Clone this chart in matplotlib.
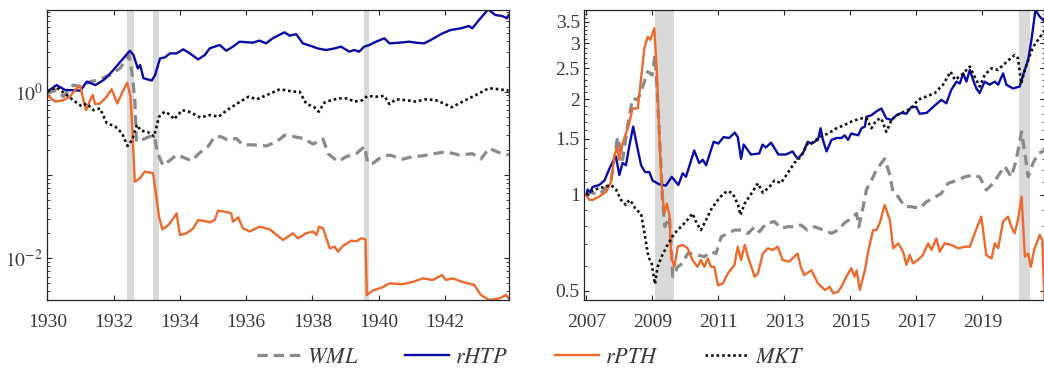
import numpy as np
import matplotlib
matplotlib.use("Agg")
import matplotlib.pyplot as plt
from matplotlib.ticker import LogLocator, MultipleLocator, NullFormatter

############################################
# data: cumulative value (log scale)
############################################
# --- 1930-1943 panel ---
wml_1930 = [(1930.0, 0.95), (1930.28, 1.05), (1930.48, 0.87), (1930.78, 1.2), (1931.03, 1.15),
            (1931.29, 1.32), (1931.54, 1.38), (1931.89, 1.58), (1932.19, 1.9), (1932.47, 2.75),
            (1932.57, 1.5), (1932.64, 0.79), (1932.69, 0.25), (1932.84, 0.263), (1933.09, 0.29),
            (1933.24, 0.29), (1933.31, 0.19), (1933.49, 0.13), (1933.7, 0.15), (1933.9, 0.174),
            (1934.1, 0.163), (1934.35, 0.148), (1934.6, 0.185), (1934.85, 0.22), (1935.05, 0.288),
            (1935.25, 0.288), (1935.45, 0.26), (1935.7, 0.275), (1935.9, 0.23), (1936.21, 0.23),
            (1936.61, 0.223), (1936.91, 0.25), (1937.16, 0.3), (1937.41, 0.29), (1937.71, 0.275),
            (1938.02, 0.235), (1938.32, 0.27), (1938.47, 0.18), (1938.77, 0.145), (1939.02, 0.166),
            (1939.32, 0.18), (1939.57, 0.22), (1939.67, 0.138), (1939.82, 0.138), (1940.02, 0.158),
            (1940.32, 0.174), (1940.72, 0.155), (1941.02, 0.166), (1941.33, 0.17), (1941.73, 0.182),
            (1942.03, 0.19), (1942.43, 0.174), (1942.83, 0.18), (1943.08, 0.155), (1943.33, 0.209),
            (1943.64, 0.185), (1943.92, 0.174)]

htp_1930 = [(1930.0, 1.0), (1930.28, 1.2), (1930.53, 1.05), (1931.0, 1.03), (1931.19, 1.32),
            (1931.45, 1.2), (1931.7, 1.38), (1931.95, 1.74), (1932.25, 2.4), (1932.49, 3.1),
            (1932.6, 2.75), (1932.73, 1.9), (1932.8, 2.09), (1932.9, 1.45), (1933.15, 1.36),
            (1933.25, 1.58), (1933.4, 2.5), (1933.55, 2.58), (1933.7, 2.88), (1933.9, 2.88),
            (1934.1, 3.22), (1934.3, 2.88), (1934.55, 2.44), (1934.75, 2.75), (1934.9, 3.31),
            (1935.2, 3.63), (1935.4, 3.1), (1935.6, 3.47), (1935.8, 3.98), (1936.2, 3.87),
            (1936.4, 4.1), (1936.6, 3.8), (1936.8, 4.37), (1937.0, 4.8), (1937.16, 5.15),
            (1937.31, 4.7), (1937.51, 4.9), (1937.71, 3.8), (1937.96, 3.53), (1938.16, 3.3),
            (1938.41, 3.16), (1938.66, 3.3), (1938.86, 3.47), (1939.11, 3.02), (1939.26, 3.16),
            (1939.41, 3.02), (1939.56, 3.47), (1939.72, 3.63), (1939.92, 3.98), (1940.17, 4.37),
            (1940.32, 3.8), (1940.62, 3.87), (1940.92, 3.98), (1941.12, 3.87), (1941.37, 3.8),
            (1941.57, 4.17), (1941.92, 5.0), (1942.17, 5.5), (1942.47, 5.75), (1942.72, 6.14),
            (1942.82, 5.75), (1943.07, 7.6), (1943.3, 9.7), (1943.52, 8.3), (1943.72, 8.1),
            (1943.87, 7.6), (1943.92, 8.3)]

pth_1930 = [(1930.0, 0.91), (1930.23, 0.76), (1930.48, 0.79), (1930.68, 0.87), (1930.88, 1.1),
            (1930.99, 1.17), (1931.09, 0.79), (1931.17, 0.6), (1931.29, 0.79), (1931.37, 0.91),
            (1931.44, 0.71), (1931.59, 0.72), (1931.79, 0.87), (1931.94, 1.07), (1932.11, 0.72),
            (1932.27, 1.0), (1932.41, 1.28), (1932.51, 0.87), (1932.57, 0.32), (1932.64, 0.083),
            (1932.79, 0.091), (1932.94, 0.11), (1933.19, 0.105), (1933.29, 0.055), (1933.37, 0.0316),
            (1933.47, 0.0223), (1933.65, 0.025), (1933.8, 0.03), (1933.9, 0.0347), (1934.0, 0.019),
            (1934.2, 0.02), (1934.4, 0.0229), (1934.55, 0.0288), (1934.75, 0.028), (1934.9, 0.027),
            (1935.05, 0.0288), (1935.15, 0.0373), (1935.4, 0.036), (1935.55, 0.0347), (1935.6, 0.0275),
            (1935.76, 0.031), (1935.9, 0.0229), (1936.1, 0.021), (1936.41, 0.024), (1936.71, 0.0223),
            (1937.11, 0.0166), (1937.41, 0.02), (1937.56, 0.0174), (1937.81, 0.02), (1938.02, 0.021),
            (1938.12, 0.019), (1938.2, 0.024), (1938.32, 0.0229), (1938.52, 0.0132), (1938.67, 0.0138),
            (1938.77, 0.012), (1938.92, 0.0141), (1939.17, 0.0163), (1939.32, 0.016), (1939.47, 0.0174),
            (1939.6, 0.017), (1939.64, 0.00363), (1939.82, 0.0041), (1940.12, 0.0045), (1940.32, 0.005),
            (1940.72, 0.0049), (1941.02, 0.0052), (1941.33, 0.00575), (1941.63, 0.0055), (1941.91, 0.0063),
            (1942.03, 0.0055), (1942.23, 0.00575), (1942.53, 0.0052), (1942.88, 0.0048), (1943.08, 0.00363),
            (1943.33, 0.00316), (1943.64, 0.0033), (1943.84, 0.00363), (1943.92, 0.0033)]

mkt_1930 = [(1930.0, 1.0), (1930.28, 1.13), (1930.53, 0.95), (1930.78, 0.79), (1931.03, 0.67),
            (1931.19, 0.72), (1931.39, 0.6), (1931.59, 0.63), (1931.79, 0.42), (1932.05, 0.38),
            (1932.25, 0.32), (1932.42, 0.223), (1932.56, 0.263), (1932.7, 0.4), (1932.82, 0.34),
            (1933.02, 0.33), (1933.22, 0.29), (1933.37, 0.5), (1933.54, 0.575), (1933.72, 0.525),
            (1933.82, 0.466), (1934.07, 0.6), (1934.27, 0.575), (1934.62, 0.49), (1934.92, 0.525),
            (1935.17, 0.5), (1935.42, 0.6), (1935.82, 0.76), (1936.07, 0.87), (1936.32, 0.81),
            (1936.62, 0.91), (1937.02, 1.07), (1937.41, 1.0), (1937.61, 1.0), (1937.81, 0.72),
            (1938.06, 0.65), (1938.19, 0.575), (1938.36, 0.74), (1938.56, 0.79), (1938.81, 0.83),
            (1939.06, 0.83), (1939.26, 0.76), (1939.51, 0.79), (1939.66, 0.89), (1939.92, 0.87),
            (1940.17, 0.89), (1940.32, 0.71), (1940.52, 0.81), (1940.82, 0.79), (1941.12, 0.76),
            (1941.42, 0.81), (1941.72, 0.79), (1941.97, 0.72), (1942.2, 0.65), (1942.42, 0.72),
            (1942.72, 0.83), (1943.02, 0.95), (1943.32, 1.1), (1943.62, 1.07), (1943.92, 1.03)]

bands_1930 = [(1932.39, 1932.62), (1933.2, 1933.36), (1939.56, 1939.72)]

# --- 2007-2020 panel ---
wml_2007 = [(2007.0, 1.0), (2007.14, 1.02), (2007.35, 1.0), (2007.55, 1.04), (2007.75, 1.11),
            (2007.9, 1.42), (2007.95, 1.52), (2008.1, 1.29), (2008.25, 1.64), (2008.4, 2.01),
            (2008.56, 1.99), (2008.71, 2.19), (2008.86, 2.44), (2009.0, 2.38), (2009.08, 2.75),
            (2009.16, 1.99), (2009.24, 1.38), (2009.31, 0.965), (2009.38, 0.795), (2009.52, 0.855),
            (2009.62, 0.554), (2009.77, 0.595), (2009.92, 0.61), (2010.07, 0.655), (2010.22, 0.655),
            (2010.37, 0.648), (2010.58, 0.64), (2010.78, 0.664), (2010.93, 0.655), (2011.09, 0.74),
            (2011.29, 0.757), (2011.49, 0.776), (2011.7, 0.776), (2011.9, 0.757), (2012.1, 0.795),
            (2012.25, 0.767), (2012.45, 0.815), (2012.7, 0.825), (2012.9, 0.786), (2013.1, 0.795),
            (2013.3, 0.795), (2013.5, 0.805), (2013.7, 0.776), (2013.92, 0.795), (2014.18, 0.776),
            (2014.43, 0.758), (2014.63, 0.776), (2014.83, 0.818), (2015.03, 0.845), (2015.19, 0.875),
            (2015.26, 0.795), (2015.39, 0.919), (2015.49, 1.04), (2015.64, 1.11), (2015.79, 1.2),
            (2016.04, 1.3), (2016.2, 1.155), (2016.3, 1.012), (2016.45, 0.988), (2016.65, 0.919),
            (2016.85, 0.919), (2017.1, 0.908), (2017.31, 0.953), (2017.51, 0.976), (2017.76, 1.012),
            (2017.96, 1.088), (2018.22, 1.11), (2018.47, 1.14), (2018.72, 1.155), (2018.92, 1.14),
            (2019.12, 1.037), (2019.33, 1.088), (2019.53, 1.17), (2019.68, 1.23), (2019.88, 1.14),
            (2020.03, 1.29), (2020.19, 1.58), (2020.29, 1.35), (2020.39, 1.14), (2020.54, 1.26),
            (2020.69, 1.35), (2020.9, 1.38)]

htp_2007 = [(2007.0, 1.0), (2007.04, 1.04), (2007.12, 1.02), (2007.19, 1.06), (2007.39, 1.075),
            (2007.55, 1.11), (2007.7, 1.21), (2007.8, 1.27), (2007.9, 1.32), (2008.0, 1.155),
            (2008.1, 1.26), (2008.2, 1.24), (2008.3, 1.42), (2008.42, 1.64), (2008.54, 1.42),
            (2008.66, 1.24), (2008.78, 1.18), (2008.91, 1.18), (2009.01, 1.11), (2009.21, 1.08),
            (2009.41, 1.07), (2009.59, 1.14), (2009.79, 1.075), (2009.92, 1.17), (2010.02, 1.14),
            (2010.27, 1.38), (2010.42, 1.26), (2010.53, 1.29), (2010.63, 1.24), (2010.86, 1.47),
            (2011.0, 1.45), (2011.16, 1.52), (2011.33, 1.51), (2011.5, 1.57), (2011.59, 1.52),
            (2011.69, 1.3), (2011.77, 1.44), (2011.99, 1.34), (2012.24, 1.35), (2012.34, 1.44),
            (2012.44, 1.41), (2012.6, 1.46), (2012.82, 1.34), (2013.05, 1.34), (2013.25, 1.37),
            (2013.4, 1.3), (2013.56, 1.35), (2013.71, 1.47), (2013.82, 1.45), (2014.02, 1.49),
            (2014.1, 1.62), (2014.17, 1.49), (2014.28, 1.37), (2014.43, 1.49), (2014.58, 1.51),
            (2014.73, 1.51), (2014.83, 1.54), (2014.93, 1.49), (2015.03, 1.56), (2015.24, 1.54),
            (2015.34, 1.62), (2015.44, 1.64), (2015.49, 1.76), (2015.64, 1.78), (2015.79, 1.83),
            (2015.94, 1.87), (2016.09, 1.74), (2016.25, 1.72), (2016.4, 1.78), (2016.55, 1.81),
            (2016.7, 1.8), (2016.85, 1.89), (2017.0, 1.89), (2017.1, 1.8), (2017.31, 1.81),
            (2017.51, 1.89), (2017.76, 1.99), (2017.91, 1.94), (2018.06, 2.14), (2018.22, 2.27),
            (2018.32, 2.24), (2018.42, 2.41), (2018.52, 2.27), (2018.62, 2.47), (2018.72, 2.3),
            (2018.82, 2.16), (2018.92, 2.09), (2019.07, 2.27), (2019.22, 2.22), (2019.38, 2.27),
            (2019.48, 2.22), (2019.63, 2.41), (2019.73, 2.22), (2019.93, 2.16), (2020.13, 2.19),
            (2020.27, 2.44), (2020.39, 2.66), (2020.49, 3.07), (2020.61, 3.81), (2020.74, 3.63),
            (2020.9, 3.5)]

pth_2007 = [(2007.0, 1.0), (2007.09, 0.965), (2007.19, 0.965), (2007.39, 0.988), (2007.6, 1.024),
            (2007.75, 1.1), (2007.85, 1.32), (2007.93, 1.42), (2008.0, 1.29), (2008.1, 1.45),
            (2008.2, 1.56), (2008.3, 1.68), (2008.4, 1.87), (2008.56, 1.87), (2008.66, 2.33),
            (2008.76, 2.89), (2008.86, 3.14), (2008.94, 3.07), (2009.06, 3.34), (2009.14, 2.41),
            (2009.21, 1.56), (2009.28, 1.088), (2009.36, 0.875), (2009.44, 0.94), (2009.52, 0.865),
            (2009.57, 0.64), (2009.67, 0.595), (2009.77, 0.688), (2009.92, 0.697), (2010.07, 0.68),
            (2010.22, 0.625), (2010.37, 0.595), (2010.47, 0.625), (2010.58, 0.595), (2010.68, 0.632),
            (2010.78, 0.595), (2010.88, 0.595), (2010.99, 0.52), (2011.14, 0.528), (2011.29, 0.567),
            (2011.49, 0.603), (2011.59, 0.688), (2011.69, 0.625), (2011.8, 0.697), (2011.9, 0.64),
            (2012.1, 0.554), (2012.2, 0.567), (2012.35, 0.655), (2012.5, 0.68), (2012.65, 0.672),
            (2012.8, 0.688), (2012.95, 0.625), (2013.15, 0.618), (2013.3, 0.64), (2013.4, 0.655),
            (2013.5, 0.595), (2013.6, 0.56), (2013.82, 0.58), (2014.02, 0.528), (2014.23, 0.503),
            (2014.38, 0.515), (2014.48, 0.491), (2014.63, 0.497), (2014.73, 0.515), (2014.88, 0.554),
            (2015.03, 0.589), (2015.13, 0.554), (2015.19, 0.58), (2015.29, 0.503), (2015.44, 0.58),
            (2015.56, 0.68), (2015.69, 0.776), (2015.79, 0.776), (2015.89, 0.815), (2016.04, 0.93),
            (2016.2, 0.835), (2016.3, 0.68), (2016.45, 0.705), (2016.6, 0.664), (2016.7, 0.603),
            (2016.8, 0.648), (2016.9, 0.61), (2017.05, 0.625), (2017.2, 0.648), (2017.36, 0.705),
            (2017.46, 0.672), (2017.61, 0.73), (2017.71, 0.664), (2017.86, 0.705), (2018.06, 0.697),
            (2018.27, 0.68), (2018.47, 0.688), (2018.62, 0.688), (2018.77, 0.758), (2018.97, 0.855),
            (2019.12, 0.648), (2019.28, 0.632), (2019.38, 0.705), (2019.48, 0.68), (2019.63, 0.825),
            (2019.78, 0.855), (2019.88, 0.795), (2019.98, 0.758), (2020.08, 0.835), (2020.19, 0.988),
            (2020.29, 0.64), (2020.39, 0.655), (2020.47, 0.595), (2020.57, 0.672), (2020.74, 0.75),
            (2020.82, 0.72), (2020.88, 0.47)]

mkt_2007 = [(2007.0, 1.0), (2007.24, 1.04), (2007.55, 1.06), (2007.75, 1.075), (2007.9, 1.04),
            (2008.05, 0.965), (2008.2, 0.93), (2008.3, 0.965), (2008.4, 0.94), (2008.5, 0.9),
            (2008.66, 0.875), (2008.78, 0.74), (2008.88, 0.64), (2008.98, 0.61), (2009.08, 0.525),
            (2009.16, 0.595), (2009.28, 0.64), (2009.46, 0.697), (2009.67, 0.757), (2009.87, 0.795),
            (2010.02, 0.825), (2010.22, 0.875), (2010.32, 0.825), (2010.47, 0.776), (2010.63, 0.835),
            (2010.78, 0.9), (2010.99, 0.965), (2011.14, 1.007), (2011.29, 1.03), (2011.44, 1.01),
            (2011.6, 0.93), (2011.67, 0.865), (2011.8, 0.94), (2012.0, 1.01), (2012.2, 1.088),
            (2012.35, 1.017), (2012.55, 1.06), (2012.7, 1.11), (2012.9, 1.09), (2013.1, 1.17),
            (2013.3, 1.26), (2013.5, 1.32), (2013.71, 1.45), (2013.82, 1.45), (2014.07, 1.52),
            (2014.33, 1.56), (2014.58, 1.62), (2014.83, 1.66), (2015.08, 1.71), (2015.34, 1.74),
            (2015.49, 1.74), (2015.64, 1.62), (2015.79, 1.72), (2015.94, 1.74), (2016.09, 1.58),
            (2016.25, 1.72), (2016.4, 1.78), (2016.65, 1.83), (2016.85, 1.87), (2017.05, 1.99),
            (2017.31, 2.04), (2017.56, 2.09), (2017.81, 2.22), (2018.04, 2.44), (2018.17, 2.3),
            (2018.37, 2.38), (2018.62, 2.53), (2018.77, 2.35), (2018.92, 2.19), (2019.07, 2.38),
            (2019.28, 2.5), (2019.48, 2.47), (2019.63, 2.56), (2019.83, 2.67), (2019.98, 2.75),
            (2020.08, 2.69), (2020.18, 2.24), (2020.29, 2.47), (2020.41, 2.69), (2020.54, 2.92),
            (2020.69, 3.07), (2020.9, 3.3)]

bands_2007 = [(2009.07, 2009.67), (2020.12, 2020.46)]

############################################
# style
############################################
plt.rcParams["font.family"] = ["Liberation Serif", "DejaVu Serif"]
plt.rcParams["mathtext.fontset"] = "stix"

series_style = {
    "WML": dict(color="#8a8a8a", lw=2.3, ls=(0, (3.2, 1.9))),
    "rHTP": dict(color="#0b0ba8", lw=1.7, ls="-"),
    "rPTH": dict(color="#ec6a2c", lw=1.7, ls="-"),
    "MKT": dict(color="#111111", lw=1.9, ls=(0, (1, 1.1))),
}
TXT = "#3a3a3a"

fig = plt.figure(figsize=(10.44, 3.69), dpi=100)
ax1 = fig.add_axes([47 / 1044, 1 - 300 / 369, 462 / 1044, 290 / 369])
ax2 = fig.add_axes([584 / 1044, 1 - 300 / 369, 461 / 1044, 290 / 369])


def draw(ax, data, bands):
    for lo, hi in bands:
        ax.axvspan(lo, hi, color="#d9d9d9", lw=0, zorder=0)
    lines = []
    for name, pts in data:
        x, y = zip(*pts)
        ln, = ax.plot(x, y, label="$" + name + "$", zorder=2, **series_style[name])
        lines.append(ln)
    ax.set_yscale("log")
    ax.tick_params(which="both", direction="in", top=True, right=True,
                   colors="#262626", labelcolor=TXT, labelsize=14)
    ax.tick_params(which="major", length=3.5, width=0.8)
    ax.tick_params(which="minor", length=2, width=0.6)
    for s in ax.spines.values():
        s.set_color("#262626")
        s.set_linewidth(0.9)
    return lines


lines = draw(ax1, [("WML", wml_1930), ("rHTP", htp_1930), ("rPTH", pth_1930), ("MKT", mkt_1930)],
             bands_1930)
draw(ax2, [("WML", wml_2007), ("rHTP", htp_2007), ("rPTH", pth_2007), ("MKT", mkt_2007)],
     bands_2007)

# left panel axes (ticks first, limits after so they are not widened)
ax1.set_xticks(np.arange(1930, 1943, 2))
ax1.set_yticks([1e-3, 1e-2, 1e-1, 1, 10], ["", "$10^{-2}$", "", "$10^{0}$", ""])
ax1.yaxis.set_minor_locator(LogLocator(base=10, subs=np.arange(2, 10), numticks=20))
ax1.yaxis.set_minor_formatter(NullFormatter())
ax1.set_xlim(1929.99, 1943.93)
ax1.set_ylim(10 ** -2.5, 10 ** 0.98)

# right panel axes
ax2.set_xticks(np.arange(2007, 2020, 2))
ax2.set_yticks([0.5, 1, 1.5, 2, 2.5, 3, 3.5], ["0.5", "1", "1.5", "2", "2.5", "3", "3.5"])
ax2.yaxis.set_minor_locator(MultipleLocator(0.1))
ax2.yaxis.set_minor_formatter(NullFormatter())
ax2.set_xlim(2006.93, 2020.9)
ax2.set_ylim(0.468, 3.81)

for ax in (ax1, ax2):
    ax.tick_params(axis="x", pad=10)
    ax.tick_params(axis="y", pad=3)

leg = fig.legend(handles=lines, loc="center", bbox_to_anchor=(0.5086, 0.03), ncol=4,
                 frameon=False, fontsize=16, handlelength=1.98, handletextpad=0.27,
                 columnspacing=2.1)
for t in leg.get_texts():
    t.set_color(TXT)

fig.savefig("out.png", dpi=100)
